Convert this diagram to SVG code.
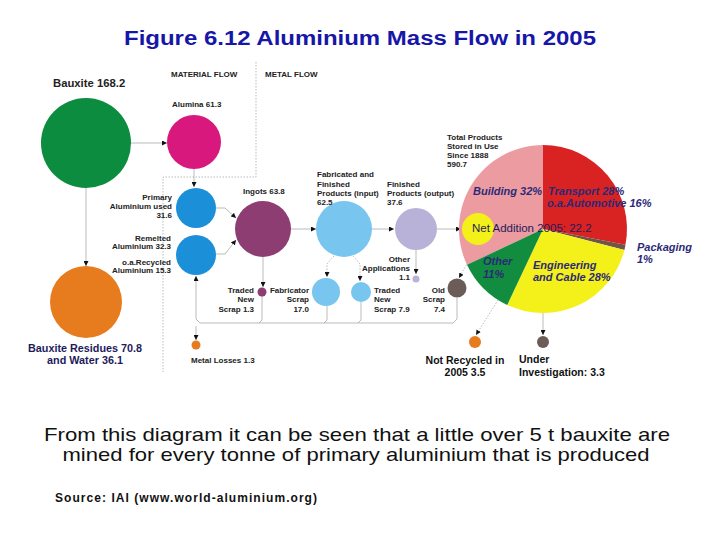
<svg xmlns="http://www.w3.org/2000/svg" width="720" height="540" viewBox="0 0 720 540">
<style>
text{font-family:"Liberation Sans",Arial,sans-serif}
.lb{font-size:8px;font-weight:bold;fill:#222}
.lbr{font-size:8px;font-weight:bold;fill:#222;text-anchor:end}
.pl{font-size:11px;font-weight:bold;font-style:italic;fill:#2b2a78}
.big{font-size:10.5px;font-weight:bold;fill:#111}
.c{stroke:#aaa;stroke-width:0.8;fill:none}
.d{stroke:#aaa;stroke-width:0.8;fill:none;stroke-dasharray:1.5 1.5}
.a{marker-end:url(#ar)}
</style>
<defs>
<marker id="ar" viewBox="0 0 6 6" refX="6" refY="3" markerWidth="5" markerHeight="5" markerUnits="userSpaceOnUse" orient="auto">
<path d="M0,0 L6,3 L0,6 Z" fill="#111"/>
</marker>
</defs>
<rect width="720" height="540" fill="#fff"/>
<text x="360" y="45" text-anchor="middle" font-size="20" font-weight="bold" fill="#1616a8" textLength="472" lengthAdjust="spacingAndGlyphs">Figure 6.12 Aluminium Mass Flow in 2005</text>

<g id="frame">
<path class="d" d="M256,62 V177 H163 V372"/>
<text class="lb" x="171" y="77" font-size="8.5">MATERIAL FLOW</text>
<text class="lb" x="265" y="77" font-size="8.5">METAL FLOW</text>
</g>

<g id="connectors">
<path class="c a" d="M131,143 H167"/>
<path class="c a" d="M86,188 V266"/>
<path class="c a" d="M194,169 V187"/>
<path class="c a" d="M215,208 H225 L236,218"/>
<path class="c a" d="M215,254 H225 L236,240"/>
<path class="c a" d="M291,229 H316"/>
<path class="c a" d="M372,229 H394"/>
<path class="c a" d="M437,229 H461"/>
<path class="c a" d="M263,257 V287"/>
<path class="d a" d="M334,256 L327,264 V277"/>
<path class="d a" d="M353,256 L360,264 V281"/>
<path class="c a" d="M416,250 V274"/>
<path class="d a" d="M468,262 L459,278"/>
<path class="c a" d="M457,298 V319 L453,323 H200 L196,319 V276"/>
<path class="c" d="M262,296 V320 L259,323"/>
<path class="c" d="M327,306 V320 L324,323"/>
<path class="c" d="M361,302 V320 L358,323"/>
<path class="c a" d="M196,326 V340"/>
<path class="d a" d="M498,300 L476,335"/>
<path class="c a" d="M543,313 V335"/>
</g>

<g id="bauxite">
<circle cx="86" cy="143" r="45" fill="#0b8c3e"/>
<text x="53" y="87" font-size="11.3" font-weight="bold" fill="#222">Bauxite 168.2</text>
</g>
<g id="alumina">
<circle cx="194" cy="142" r="27" fill="#d8187c"/>
<text class="lb" x="172" y="107" font-size="7.8">Alumina 61.3</text>
</g>
<g id="primary">
<circle cx="196" cy="208" r="20" fill="#1b8fd8"/>
<text class="lbr" x="172" y="200">Primary</text>
<text class="lbr" x="172" y="209">Aluminium used</text>
<text class="lbr" x="172" y="218">31.6</text>
</g>
<g id="remelted">
<circle cx="196" cy="255" r="20" fill="#1b8fd8"/>
<text class="lbr" x="171" y="241">Remelted</text>
<text class="lbr" x="171" y="249">Aluminium 32.3</text>
<text class="lbr" x="171" y="265">o.a.Recycled</text>
<text class="lbr" x="171" y="273">Aluminium 15.3</text>
</g>
<g id="residues">
<circle cx="86" cy="302" r="36" fill="#e67c1e"/>
<text x="85" y="352" text-anchor="middle" font-size="10.8" font-weight="bold" fill="#1e1b5c">Bauxite Residues 70.8</text>
<text x="85" y="364" text-anchor="middle" font-size="10.8" font-weight="bold" fill="#1e1b5c">and Water 36.1</text>
</g>
<g id="losses">
<circle cx="196" cy="345" r="4.5" fill="#e67c1e"/>
<text class="lb" x="191" y="363">Metal Losses 1.3</text>
</g>
<g id="ingots">
<circle cx="263" cy="229" r="28" fill="#8e3d72"/>
<text class="lb" x="243" y="194">Ingots 63.8</text>
</g>
<g id="fabricated">
<circle cx="344" cy="229" r="28" fill="#78c5ef"/>
<text class="lb" x="317" y="177">Fabricated and</text>
<text class="lb" x="317" y="187">Finished</text>
<text class="lb" x="317" y="196">Products (input)</text>
<text class="lb" x="317" y="205">62.5</text>
</g>
<g id="finished">
<circle cx="416" cy="229" r="21" fill="#b8b2d8"/>
<text class="lb" x="387" y="187">Finished</text>
<text class="lb" x="387" y="196">Products (output)</text>
<text class="lb" x="387" y="205">37.6</text>
</g>
<g id="other-applications">
<circle cx="416" cy="279" r="3.5" fill="#b8b2d8"/>
<text class="lbr" x="410" y="262">Other</text>
<text class="lbr" x="410" y="271">Applications</text>
<text class="lbr" x="410" y="280">1.1</text>
</g>
<g id="traded1">
<circle cx="262" cy="292" r="4.5" fill="#8e3d72"/>
<text class="lbr" x="254" y="293">Traded</text>
<text class="lbr" x="254" y="302">New</text>
<text class="lbr" x="254" y="312">Scrap 1.3</text>
</g>
<g id="fabricator-scrap">
<circle cx="326" cy="292" r="14" fill="#78c5ef"/>
<text class="lbr" x="309" y="293">Fabricator</text>
<text class="lbr" x="309" y="302">Scrap</text>
<text class="lbr" x="309" y="312">17.0</text>
</g>
<g id="traded2">
<circle cx="361" cy="292" r="10" fill="#78c5ef"/>
<text class="lb" x="374" y="293">Traded</text>
<text class="lb" x="374" y="302">New</text>
<text class="lb" x="374" y="312">Scrap 7.9</text>
</g>
<g id="old-scrap">
<circle cx="457" cy="288" r="9.5" fill="#6b5c58"/>
<text class="lbr" x="445" y="293">Old</text>
<text class="lbr" x="445" y="302">Scrap</text>
<text class="lbr" x="445" y="312">7.4</text>
</g>

<g id="stock">
<path d="M543,229 L467,264.8 A84,84 0 0 1 543,145 Z" fill="#ec9ca1"/>
<path d="M543,229 L543,145 A84,84 0 0 1 625.5,244.7 Z" fill="#d92323"/>
<path d="M543,229 L625.5,244.7 A84,84 0 0 1 624.4,249.9 Z" fill="#6e5548"/>
<path d="M543,229 L624.4,249.9 A84,84 0 0 1 507.2,305 Z" fill="#f4f01a"/>
<path d="M543,229 L507.2,305 A84,84 0 0 1 467,264.8 Z" fill="#128c3e"/>
<circle cx="478" cy="229" r="16" fill="#f4f01a"/>
<text class="lb" x="447" y="140">Total Products</text>
<text class="lb" x="447" y="149">Stored in Use</text>
<text class="lb" x="447" y="158">Since 1888</text>
<text class="lb" x="447" y="167">590.7</text>
<text class="pl" x="473" y="195">Building 32%</text>
<text class="pl" x="548" y="195">Transport 28%</text>
<text class="pl" x="547" y="207">o.a.Automotive 16%</text>
<text x="472" y="232" font-size="11.5" fill="#1e1b5c">Net Addition 2005: 22.2</text>
<text class="pl" x="483" y="265">Other</text>
<text class="pl" x="483" y="278">11%</text>
<text class="pl" x="533" y="269">Engineering</text>
<text class="pl" x="533" y="281">and Cable 28%</text>
<text class="pl" x="637" y="251">Packaging</text>
<text class="pl" x="637" y="263">1%</text>
</g>
<g id="not-recycled">
<circle cx="475" cy="342" r="6" fill="#e67c1e"/>
<text class="big" x="465" y="364" text-anchor="middle">Not Recycled in</text>
<text class="big" x="465" y="376" text-anchor="middle">2005  3.5</text>
</g>
<g id="under-investigation">
<circle cx="543" cy="342" r="6" fill="#6b5c58"/>
<text class="big" x="519" y="363">Under</text>
<text class="big" x="519" y="376">Investigation:  3.3</text>
</g>

<text x="357" y="441" text-anchor="middle" font-size="19" fill="#111" textLength="626" lengthAdjust="spacingAndGlyphs">From this diagram it can be seen that a little over 5 t  bauxite are</text>
<text x="356" y="461" text-anchor="middle" font-size="19" fill="#111" textLength="587" lengthAdjust="spacingAndGlyphs">mined for every tonne of primary aluminium that is produced</text>
<text x="55" y="502" font-size="12" font-weight="bold" fill="#111" textLength="262" lengthAdjust="spacing">Source: IAI (www.world-aluminium.org)</text>
</svg>
